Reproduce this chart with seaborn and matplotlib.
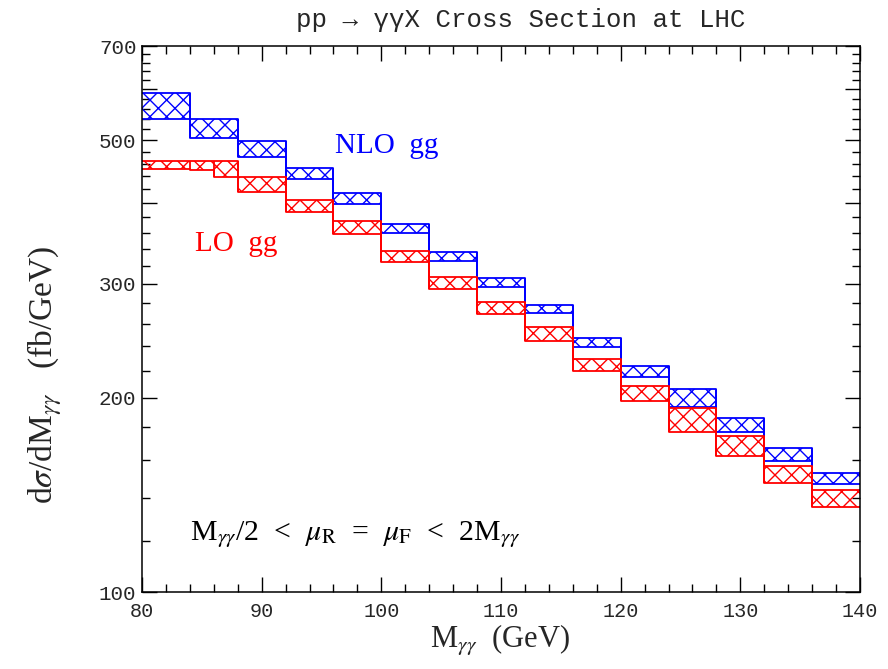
import numpy as np
import matplotlib
matplotlib.use("Agg")
import matplotlib.pyplot as plt
import matplotlib.ticker as mticker
import seaborn as sns

# ---- data ----
nlo_edges = [80, 84, 88, 92, 96, 100, 104, 108, 112, 116, 120, 124, 128, 132, 136, 140]
nlo_hi = [591.5, 539.9, 499.6, 452.8, 415.0, 371.3, 336.3, 305.9, 278.2, 247.6, 223.8, 206.0, 185.8, 166.9, 153.0]
nlo_lo = [539.9, 505.0, 471.0, 435.4, 398.7, 359.8, 325.3, 296.3, 270.1, 239.8, 215.4, 193.6, 177.1, 159.7, 146.8]

lo_edges = [80, 84, 86, 88, 92, 96, 100, 104, 108, 112, 116, 120, 124, 128, 132, 136, 140]
lo_hi = [465.0, 465.0, 465.0, 439.5, 404.5, 375.2, 337.2, 307.6, 281.5, 256.9, 229.5, 208.4, 192.7, 174.4, 156.7, 143.8]
lo_lo = [450.8, 450.0, 439.5, 415.6, 387.1, 357.8, 324.5, 294.4, 269.2, 244.9, 219.8, 197.5, 177.1, 162.4, 147.4, 135.5]

y_major = [100, 200, 300, 400, 500, 600, 700]
y_major_labels = ["100", "200", "300", "", "500", "", "700"]
x_major = [80, 90, 100, 110, 120, 130, 140]

sns.set_theme(style="ticks")
plt.rcParams["font.family"] = ["Liberation Serif", "DejaVu Serif"]
plt.rcParams["mathtext.fontset"] = "stix"
plt.rcParams["hatch.linewidth"] = 1.0

fig = plt.figure(figsize=(8.88, 6.69), dpi=100)
ax = fig.add_axes([142 / 888, 1 - 592 / 669, (860 - 142) / 888, (592 - 46) / 669])

def band(edges, hi, lo, color):
    edges = np.asarray(edges, float)
    hi_ext = np.r_[hi, hi[-1]]
    lo_ext = np.r_[lo, lo[-1]]
    ax.fill_between(edges, lo_ext, hi_ext, step="post", facecolor="none",
                    edgecolor=color, hatch="xx", linewidth=0)
    for vals in (hi_ext, lo_ext):
        sns.lineplot(x=edges, y=vals, drawstyle="steps-post", color=color,
                     linewidth=1.3, estimator=None, sort=False, ax=ax)
    # vertical closures of each box
    ax.vlines(edges[1:-1], np.minimum(lo_ext[:-2], lo_ext[1:-1]),
              np.maximum(hi_ext[:-2], hi_ext[1:-1]), color=color, linewidth=1.3)

band(nlo_edges, nlo_hi, nlo_lo, "#0000ff")
band(lo_edges, lo_hi, lo_lo, "#ff0000")

ax.set_yscale("log")
ax.set_xlim(80, 140)
ax.set_ylim(100, 700)
ax.yaxis.set_major_locator(mticker.FixedLocator(y_major))
ax.yaxis.set_major_formatter(mticker.FixedFormatter(y_major_labels))
ax.yaxis.set_minor_locator(mticker.FixedLocator([v for v in range(120, 700, 20) if v % 100]))
ax.yaxis.set_minor_formatter(mticker.NullFormatter())
ax.xaxis.set_major_locator(mticker.FixedLocator(x_major))
ax.xaxis.set_minor_locator(mticker.MultipleLocator(2))

mono = ["Liberation Mono", "DejaVu Sans Mono"]
ax.tick_params(which="both", direction="in", top=True, right=True, color="black", width=1.0)
ax.tick_params(which="major", length=11)
ax.tick_params(which="minor", length=5.5)
ax.tick_params(axis="x", which="major", pad=7)
ax.tick_params(axis="y", which="major", pad=4)
for lab in ax.get_xticklabels():
    lab.set_fontfamily(mono)
    lab.set_fontsize(14.5)
for lab in ax.get_yticklabels():
    lab.set_fontfamily(mono)
    lab.set_fontsize(15)
for sp in ax.spines.values():
    sp.set_color("black")
    sp.set_linewidth(1.1)
ax.set_xlabel("")
ax.set_ylabel("")

ax.text(96.1, 491, "NLO  gg", color="#0000ff", fontsize=21, ha="left", va="center")
ax.text(84.4, 346, "LO  gg", color="#ff0000", fontsize=21, ha="left", va="center")
ax.text(84.0, 122.5, r"M$_{\gamma\gamma}$/2  <  $\mu_{\rm R}$  =  $\mu_{\rm F}$  <  2M$_{\gamma\gamma}$",
        color="black", fontsize=21.5, ha="left", va="center")

fig.text(521 / 888, 1 - 20 / 669, "pp → γγX Cross Section at LHC", family=mono,
         fontsize=18.5, ha="center", va="center")
fig.text(500 / 888, 1 - 640 / 669, r"M$_{\gamma\gamma}$  (GeV)", fontsize=22,
         ha="center", va="center")
fig.text(45 / 888, 1 - 375 / 669, r"d$\sigma$/dM$_{\gamma\gamma}$   (fb/GeV)", fontsize=24,
         ha="center", va="center", rotation=90)

fig.savefig("out.png", dpi=100)
